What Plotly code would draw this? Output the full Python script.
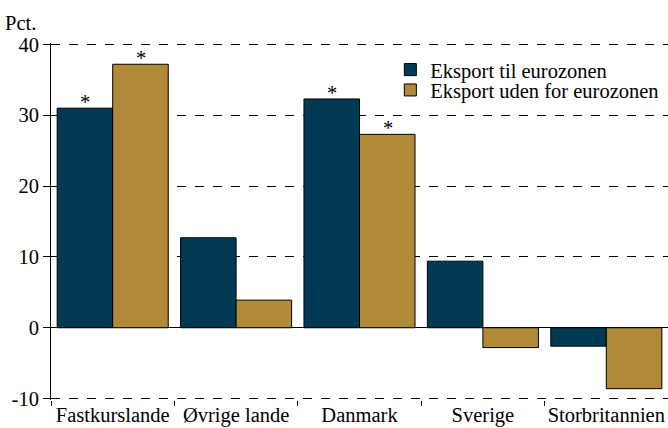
import plotly.graph_objects as go

categories = ["Fastkurslande", "Øvrige lande", "Danmark", "Sverige", "Storbritannien"]
eksport_til = [31.0, 12.7, 32.3, 9.4, -2.6]
eksport_uden = [37.2, 3.9, 27.3, -2.8, -8.6]
stars_til = ["*", "", "*", "", ""]
stars_uden = ["*", "", "*", "", ""]
y_ticks = [-10, 0, 10, 20, 30, 40]
y_tick_labels = ["-10", "0", "10", "20", "30", "40"]

FONT = "Liberation Serif"
FS = 20.5
NAVY = "#033A53"
GOLD = "#B08A38"

fig = go.Figure()
fig.add_trace(go.Bar(
    x=categories, y=eksport_til, name="Eksport til eurozonen", legend="legend",
    marker=dict(color=NAVY, line=dict(color="black", width=1)),
))
fig.add_trace(go.Bar(
    x=categories, y=eksport_uden, name="Eksport uden for eurozonen", legend="legend2",
    marker=dict(color=GOLD, line=dict(color="black", width=1)),
))

annotations = [dict(text="Pct.", x=0, y=1, xref="paper", yref="paper",
                    xshift=-48, yshift=7, xanchor="left", yanchor="bottom",
                    showarrow=False, font=dict(family=FONT, size=FS))]
for stars, vals, shift in [(stars_til, eksport_til, -28), (stars_uden, eksport_uden, 28)]:
    for cat, s, v in zip(categories, stars, vals):
        if s:
            annotations.append(dict(text=s, x=cat, y=v, xref="x", yref="y",
                                    xshift=shift, yshift=-7, yanchor="bottom",
                                    showarrow=False,
                                    font=dict(family=FONT, size=FS, color="black")))

leg = dict(xanchor="left", yanchor="middle", bgcolor="rgba(0,0,0,0)",
           font=dict(family=FONT, size=FS), itemwidth=30)
fig.update_layout(
    width=668, height=428,
    margin=dict(l=51, r=0, t=43, b=28),
    barmode="group", bargap=0.1, bargroupgap=0,
    plot_bgcolor="white", paper_bgcolor="white",
    font=dict(family=FONT, size=FS, color="black"),
    showlegend=True,
    legend=dict(x=0.55, y=0.925, **leg),
    legend2=dict(x=0.55, y=0.868, **leg),
    annotations=annotations,
)
fig.update_xaxes(
    showline=False, ticks="outside", tickson="boundaries", ticklen=5,
    tickcolor="black", showgrid=False, tickangle=0, automargin=False,
)
fig.update_yaxes(
    range=[-10.2, 40.2], tickvals=y_ticks, ticktext=y_tick_labels,
    showgrid=True, gridcolor="black",
    griddash="dash", gridwidth=1, zeroline=True, zerolinecolor="black",
    zerolinewidth=1, showline=True, linecolor="black", ticks="outside",
    ticklen=7, tickcolor="black", automargin=False,
)
fig.write_html("out.html", config={"displayModeBar": False},
               post_script="document.body.style.margin='0';")
